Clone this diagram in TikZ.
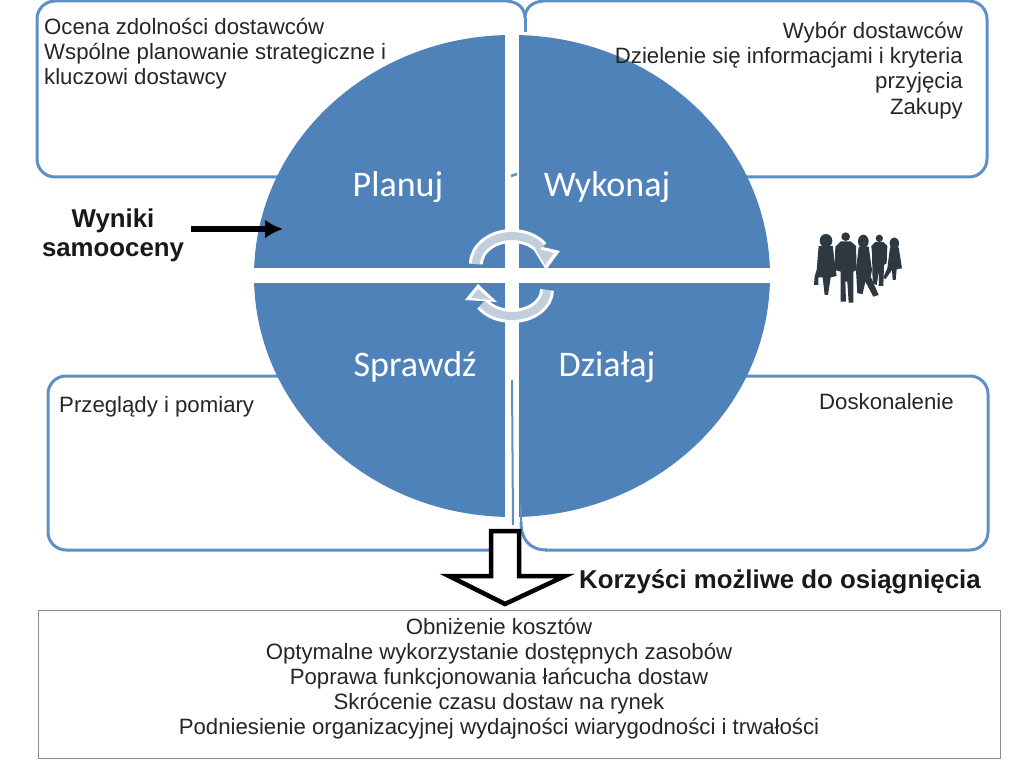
\documentclass[tikz,border=0pt]{standalone}
\usepackage{fontspec}
\setmainfont{Liberation Sans}
\newfontfamily\calib{Carlito}
\usetikzlibrary{arrows.meta}
\definecolor{quad}{HTML}{5082BA}
\definecolor{boxline}{HTML}{5C90C6}
\definecolor{sil}{HTML}{2E3840}
\definecolor{arcgray}{HTML}{C3CEDD}
\tikzset{
  x=1pt,y=-1pt,
  bluebox/.style={draw=boxline,line width=3pt,rounded corners=18pt},
  body/.style={font=\fontsize{22.2}{25.2}\selectfont,inner sep=0pt,text=black!85},
  quadlabel/.style={font=\calib\fontsize{36}{38}\selectfont,text=white,inner sep=0pt},
  boldlabel/.style={font=\bfseries\fontsize{25.8}{29}\selectfont,inner sep=0pt,text=black!90,align=center},
  person/.style={fill=sil,draw=none},
  halo/.style={draw=white,line width=14pt},
  ring/.style={draw=arcgray,line width=8pt},
}
\begin{document}
\begin{tikzpicture}
\useasboundingbox (0,0) rectangle (1015,762);
\fill[white] (0,0) rectangle (1015,762);
% boxes
\draw[bluebox] (510,1) -- (37,1) -- (37,177) -- (525,177);
\draw[bluebox] (525,177) -- (987,177) -- (987,1) -- (540,1);
\draw[boxline,line width=3pt] (507,1) .. controls (518,2) and (525,8) .. (525,18) .. controls (525,8) and (532,2) .. (543,1);
\draw[boxline,line width=3pt] (525,18) -- (525,32);
\draw[bluebox] (300,376) -- (48,376) -- (48,550) -- (520,550);
\draw[bluebox] (700,376) -- (988,376) -- (988,550) -- (545,550);
\draw[boxline,line width=3pt] (521,522) .. controls (521,540) and (530,550) .. (547,550);
% circle
\fill[quad] (512,276) ellipse [x radius=258,y radius=241];
\fill[white] (505,30) rectangle (519,525);
\fill[white] (250,268) rectangle (775,283);
\draw[boxline,line width=2.5pt] (511,176) -- (517,174);
\draw[boxline,line width=2pt] (512,380) -- (513,525);
\draw[boxline,line width=2.5pt] (521,505) -- (521,530);
% cycle arrows
\draw[halo] (476,264) arc [start angle=180,end angle=325,x radius=36,y radius=28];
\fill[white] (530,244) -- (560,251) -- (546,270) -- cycle;
\draw[ring] (476,264) arc [start angle=180,end angle=325,x radius=36,y radius=28];
\fill[arcgray] (535,248) -- (554,253) -- (545,265) -- cycle;
\draw[halo] (547,290) arc [start angle=0,end angle=148,x radius=35,y radius=26];
\fill[white] (465,300) -- (478,284) -- (497,302) -- cycle;
\draw[ring] (547,290) arc [start angle=0,end angle=148,x radius=35,y radius=26];
\fill[arcgray] (471,298) -- (478,289) -- (491,300) -- cycle;
% labels
\node[quadlabel,anchor=base] (planuj) at (398,197) {Planuj};
\node[quadlabel,anchor=base] (wykonaj) at (607,197) {Wykonaj};
\node[quadlabel,anchor=base] (sprawdz) at (415,376) {Sprawdź};
\node[quadlabel,anchor=base] (dzialaj) at (607,376) {Działaj};
\node[body,anchor=north west,align=left] (tl) at (44,18) {Ocena zdolności dostawców\\Wspólne planowanie strategiczne i\\kluczowi dostawcy};
\node[body,anchor=north east,align=right] (tr) at (963,22) {Wybór dostawców\\Dzielenie się informacjami i kryteria\\przyjęcia\\Zakupy};
\node[body,anchor=north west] (bl) at (59,396) {Przeglądy i pomiary};
\node[body,anchor=north west] (br) at (819,393) {Doskonalenie};
\node[boldlabel] (wyniki) at (113,235) {Wyniki\\samooceny};
\coordinate (arrstart) at (191,229);
\coordinate (arrend) at (283,229);
\draw[line width=6pt,black,-{Latex[length=18pt,width=19pt]}] (arrstart) -- (arrend);
% big arrow
\draw[draw=black,fill=white,line width=4.5pt,miter limit=10] (491,531) -- (519,531) -- (519,576) -- (565,576) -- (505,604) -- (449,576) -- (491,576) -- cycle;
\node[anchor=base west,inner sep=0pt,font=\bfseries\fontsize{25.8}{30}\selectfont,text=black!90] (korzysci) at (579,588) {Korzyści możliwe do osiągnięcia};
% result box
\node[draw=black!45,line width=0.8pt,minimum width=962pt,minimum height=148pt,anchor=north west,inner sep=0pt] (wynik) at (38,610) {};
\node[body,anchor=north,align=center,text=black!85] (lista) at (499,617.5) {Obniżenie kosztów\\Optymalne wykorzystanie dostępnych zasobów\\Poprawa funkcjonowania łańcucha dostaw\\Skrócenie czasu dostaw na rynek\\Podniesienie organizacyjnej wydajności wiarygodności i trwałości};
% people
\begin{scope}[shift={(800,220)},x=0.3333pt,y=-0.3333pt]
\fill[person] (78,62) ellipse [x radius=19,y radius=20];
\fill[person] (56,78) -- (98,78) -- (104,125) -- (110,168) -- (92,172) -- (84,225) -- (74,225) -- (68,172) -- (55,172) -- (55,195) -- (42,195) -- (44,168) -- (50,150) -- cycle;
\fill[person] (137,50) circle [radius=13];
\fill[person] (122,64) -- (152,64) -- (168,78) -- (170,150) -- (160,155) -- (160,248) -- (146,248) -- (142,185) -- (136,185) -- (138,245) -- (122,245) -- (122,155) -- (104,150) -- (106,80) -- cycle;
\fill[person] (190,64) ellipse [x radius=16,y radius=20];
\fill[person] (176,80) -- (206,80) -- (216,150) -- (212,170) -- (236,225) -- (220,230) -- (196,185) -- (188,222) -- (172,220) -- (168,150) -- cycle;
\fill[person] (238,55) circle [radius=11];
\fill[person] (226,66) -- (250,66) -- (262,78) -- (260,130) -- (252,135) -- (250,198) -- (236,198) -- (238,150) -- (230,195) -- (218,190) -- (216,100) -- (214,78) -- cycle;
\fill[person] (283,70) ellipse [x radius=14,y radius=18];
\fill[person] (270,82) -- (296,82) -- (306,145) -- (290,148) -- (287,180) -- (278,180) -- (276,150) -- (256,178) -- (250,172) -- (262,145) -- cycle;
\end{scope}
\end{tikzpicture}
\end{document}
